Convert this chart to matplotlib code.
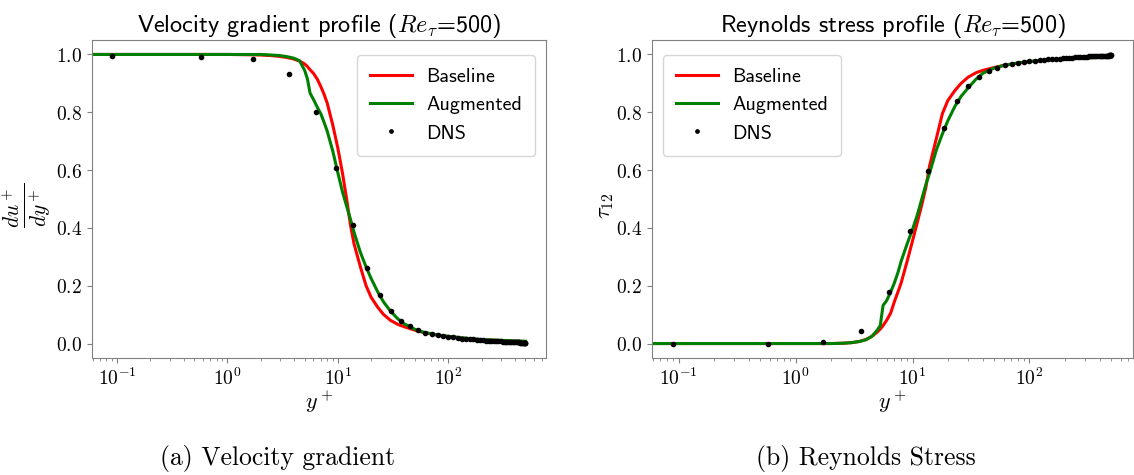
import matplotlib
matplotlib.use('Agg')
import matplotlib.pyplot as plt
from matplotlib.ticker import FuncFormatter, NullFormatter
import numpy as np

# configuracoes
plt.rcParams['mathtext.fontset'] = 'cm'
plt.rcParams['axes.unicode_minus'] = False

# dados DNS (Re_tau = 500)
yplus_dns = [0.09, 0.58, 1.72, 3.6, 6.35, 9.6, 13.6, 18.5, 23.9, 30.0, 37.0, 44.8,
             53.0, 61.5, 70.6, 80.0, 90.0, 100, 111, 122, 133, 145, 157, 169, 181,
             194, 206, 219, 232, 245, 258, 271, 284, 297, 310, 323, 336, 348, 361,
             373, 385, 397, 408, 419, 429, 439, 449, 458, 466, 474, 481, 487, 492,
             496, 499]
dudy_dns = [0.994, 0.992, 0.983, 0.933, 0.802, 0.606, 0.409, 0.263, 0.168, 0.112,
            0.078, 0.059, 0.046, 0.038, 0.032, 0.029, 0.025, 0.023, 0.021, 0.019,
            0.017, 0.016, 0.015, 0.014, 0.013, 0.012, 0.011, 0.0105, 0.010, 0.0095,
            0.009, 0.0085, 0.008, 0.0075, 0.007, 0.0066, 0.0062, 0.0058, 0.0055,
            0.0052, 0.0049, 0.0046, 0.0043, 0.0041, 0.0039, 0.0037, 0.0035, 0.0034,
            0.0032, 0.0031, 0.003, 0.003, 0.0029, 0.0029, 0.0028]
tau_dns = [0.0, 0.0, 0.006, 0.045, 0.178, 0.391, 0.597, 0.745, 0.838, 0.890,
           0.923, 0.943, 0.954, 0.962, 0.968, 0.971, 0.974, 0.976, 0.978, 0.980,
           0.982, 0.983, 0.984, 0.985, 0.986, 0.987, 0.988, 0.989, 0.989, 0.990,
           0.990, 0.991, 0.991, 0.992, 0.992, 0.993, 0.993, 0.993, 0.994, 0.994,
           0.994, 0.995, 0.995, 0.995, 0.995, 0.996, 0.996, 0.996, 0.996, 0.996,
           0.997, 0.997, 0.997, 0.997, 0.997]

# modelos
yplus_model = [0.01, 0.1, 0.5, 1.0, 1.5, 2.0, 2.5, 3.0, 3.5, 4.0, 4.5, 5.0, 5.3,
               5.6, 6.0, 6.5, 7.0, 7.5, 8.0, 9.0, 10, 11, 12, 13, 14, 16, 18, 20,
               23, 26, 30, 35, 40, 50, 60, 80, 100, 150, 200, 300, 400, 500]
dudy_baseline = [1.0, 1.0, 1.0, 1.0, 0.999, 0.998, 0.996, 0.993, 0.989, 0.984,
                 0.977, 0.967, 0.958, 0.947, 0.935, 0.915, 0.889, 0.862, 0.832,
                 0.755, 0.675, 0.59, 0.50, 0.41, 0.345, 0.265, 0.20, 0.16, 0.125,
                 0.10, 0.08, 0.066, 0.058, 0.046, 0.038, 0.029, 0.024, 0.017,
                 0.013, 0.010, 0.008, 0.007]
dudy_augmented = [1.0, 1.0, 1.0, 1.0, 1.0, 1.0, 0.998, 0.996, 0.992, 0.987,
                  0.978, 0.945, 0.915, 0.866, 0.845, 0.818, 0.795, 0.765, 0.735,
                  0.665, 0.59, 0.525, 0.475, 0.43, 0.385, 0.315, 0.265, 0.225,
                  0.178, 0.143, 0.112, 0.085, 0.068, 0.049, 0.039, 0.030, 0.025,
                  0.018, 0.014, 0.011, 0.009, 0.008]
tau_baseline = [0, 0, 0, 0, 0, 0, 0.001, 0.003, 0.007, 0.014, 0.025, 0.04, 0.05,
                0.062, 0.08, 0.105, 0.145, 0.178, 0.21, 0.285, 0.355, 0.42, 0.48,
                0.54, 0.615, 0.71, 0.795, 0.84, 0.875, 0.9, 0.922, 0.937, 0.945,
                0.955, 0.962, 0.970, 0.975, 0.981, 0.984, 0.988, 0.990, 0.991]
tau_augmented = [0, 0, 0, 0, 0, 0, 0.001, 0.003, 0.007, 0.013, 0.025, 0.047,
                 0.062, 0.132, 0.148, 0.178, 0.21, 0.245, 0.285, 0.345, 0.395,
                 0.445, 0.5, 0.55, 0.59, 0.67, 0.725, 0.77, 0.82, 0.855, 0.885,
                 0.915, 0.935, 0.953, 0.962, 0.971, 0.976, 0.982, 0.985, 0.988,
                 0.990, 0.991]

TITLE_FONT = dict(family='cmss10', size=17.5)
W, H = 1134, 475

fig = plt.figure(figsize=(W / 100, H / 100), dpi=100)
ax1 = fig.add_axes([92 / W, 1 - 358 / H, 454 / W, 318 / H])
ax2 = fig.add_axes([652 / W, 1 - 358 / H, 481 / W, 318 / H])


def montar_eixo(ax, y_base, y_aug, y_dns, titulo, ylabel, loc, anchor,
                ylabel_size, ylabel_x):
    ax.plot(yplus_model, y_base, color='red', lw=2.2, label='Baseline')
    ax.plot(yplus_model, y_aug, color='green', lw=2.2, label='Augmented')
    ax.plot(yplus_dns, y_dns, 'o', color='black', ms=3.0, label='DNS')
    ax.set_xscale('log')
    ax.set_xlim(0.0593, 767)
    ax.set_ylim(-0.05, 1.05)
    ax.set_yticks([0.0, 0.2, 0.4, 0.6, 0.8, 1.0])
    ax.yaxis.set_major_formatter(FuncFormatter(lambda v, p: f'${v:.1f}$'))
    ax.xaxis.set_major_formatter(
        FuncFormatter(lambda v, p: f'$10^{{{int(round(np.log10(v)))}}}$'))
    ax.xaxis.set_minor_formatter(NullFormatter())
    ax.tick_params(labelsize=14, color='0.5')
    ax.tick_params(which='minor', color='0.5')
    for s in ax.spines.values():
        s.set_color('0.5')
    ax.set_title(titulo, fontdict=TITLE_FONT, pad=6)
    ax.set_xlabel(r'$y^+$', fontsize=16, labelpad=0)
    ax.set_ylabel(ylabel, fontsize=ylabel_size)
    ax.yaxis.set_label_coords(ylabel_x, 0.48)
    ax.legend(loc=loc, bbox_to_anchor=anchor, bbox_transform=fig.transFigure,
              borderaxespad=0, prop={'family': 'cmss10', 'size': 14.5},
              handlelength=2.1, handletextpad=0.7, borderpad=0.65,
              labelspacing=0.5, markerscale=0.8)


# rotulo y ancorado pela borda direita
montar_eixo(ax1, dudy_baseline, dudy_augmented, dudy_dns,
            r'Velocity gradient profile ($Re_\tau$=500)',
            r'$\frac{du^+}{dy^+}$', 'upper right', (535 / W, 1 - 55 / H), 22,
            (53 - 92) / 454)
montar_eixo(ax2, tau_baseline, tau_augmented, tau_dns,
            r'Reynolds stress profile ($Re_\tau$=500)',
            r'$\tau_{12}$', 'upper left', (663 / W, 1 - 55 / H), 16,
            (616 - 652) / 481)

fig.text(278 / W, 1 - 458 / H, '(a) Velocity gradient', family='cmr10',
         fontsize=18.5, ha='center', va='center')
fig.text(866 / W, 1 - 458 / H, '(b) Reynolds Stress', family='cmr10',
         fontsize=18.5, ha='center', va='center')

fig.savefig('out.png', dpi=100)
